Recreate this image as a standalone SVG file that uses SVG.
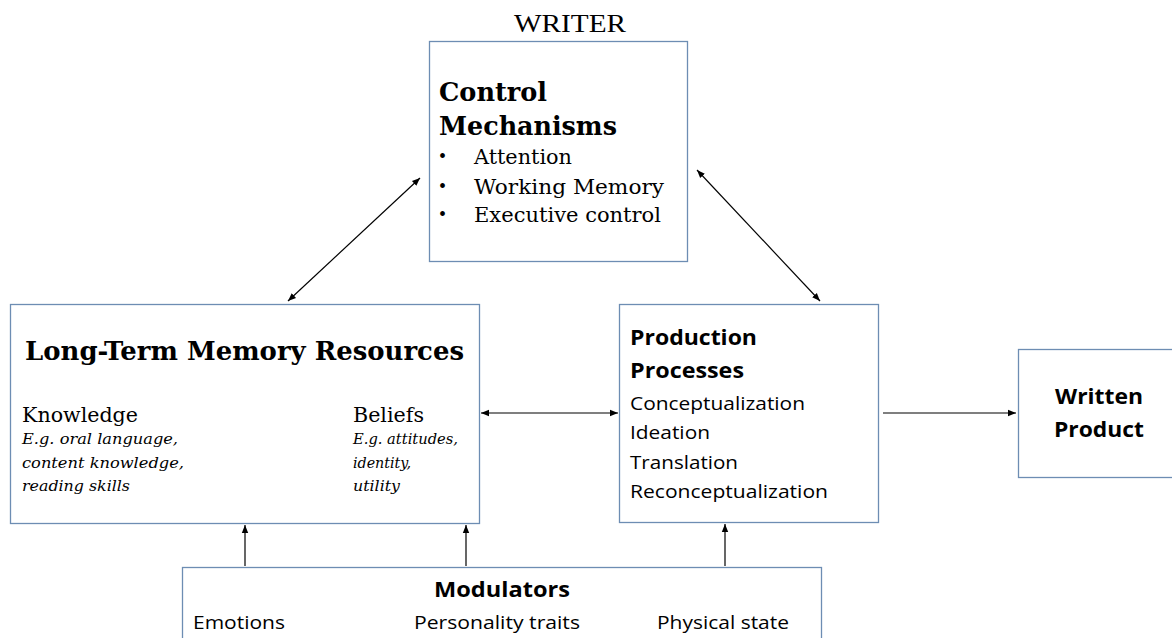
<svg xmlns="http://www.w3.org/2000/svg" width="1172" height="638" viewBox="0 0 1172 638">
<style>
.box{fill:#fff;stroke:#6d8db3;stroke-width:1.3}
.ser{font-family:"DejaVu Serif","Liberation Serif",serif;fill:#000}
.tms{font-family:"Liberation Serif",serif;fill:#000}
.san{font-family:"Open Sans","Liberation Sans",sans-serif;fill:#000}
.b{font-weight:bold}
.i{font-style:italic}
.ln{stroke:#000;stroke-width:1.2;fill:none}
</style>
<defs>
<marker id="ah" viewBox="0 0 10 10" refX="10" refY="5" markerWidth="8" markerHeight="8" markerUnits="userSpaceOnUse" orient="auto-start-reverse">
<path d="M0,1 L10,5 L0,9 Z" fill="#000"/>
</marker>
</defs>
<rect width="1172" height="638" fill="#fff"/>
<text class="tms" x="514" y="32" font-size="26" textLength="112" lengthAdjust="spacingAndGlyphs">WRITER</text>
<g id="control">
<rect class="box" x="429.5" y="41.5" width="258" height="220"/>
<text class="ser b" x="439" y="101" font-size="26" textLength="108" lengthAdjust="spacingAndGlyphs">Control</text>
<text class="ser b" x="439" y="135" font-size="26" textLength="178" lengthAdjust="spacingAndGlyphs">Mechanisms</text>
<text class="tms" x="439" y="163" font-size="20">•</text>
<text class="tms" x="439" y="193" font-size="20">•</text>
<text class="tms" x="439" y="221" font-size="20">•</text>
<text class="ser" x="474" y="164" font-size="20" textLength="98" lengthAdjust="spacingAndGlyphs">Attention</text>
<text class="ser" x="474" y="194" font-size="20" textLength="190" lengthAdjust="spacingAndGlyphs">Working Memory</text>
<text class="ser" x="474" y="222" font-size="20" textLength="187" lengthAdjust="spacingAndGlyphs">Executive control</text>
</g>
<g id="ltm">
<rect class="box" x="10.5" y="304.5" width="469" height="219"/>
<text class="ser b" x="25" y="360" font-size="26" textLength="439" lengthAdjust="spacingAndGlyphs">Long-Term Memory Resources</text>
<text class="ser" x="22" y="422" font-size="21" textLength="116" lengthAdjust="spacingAndGlyphs">Knowledge</text>
<text class="ser i" x="22" y="444" font-size="15.5" textLength="156" lengthAdjust="spacingAndGlyphs">E.g. oral language,</text>
<text class="ser i" x="22" y="468" font-size="15.5" textLength="162" lengthAdjust="spacingAndGlyphs">content knowledge,</text>
<text class="ser i" x="22" y="491" font-size="15.5" textLength="108" lengthAdjust="spacingAndGlyphs">reading skills</text>
<text class="ser" x="353" y="422" font-size="21" textLength="71" lengthAdjust="spacingAndGlyphs">Beliefs</text>
<text class="ser i" x="353" y="444" font-size="15.5" textLength="105" lengthAdjust="spacingAndGlyphs">E.g. attitudes,</text>
<text class="ser i" x="353" y="468" font-size="15.5" textLength="58" lengthAdjust="spacingAndGlyphs">identity,</text>
<text class="ser i" x="353" y="491" font-size="15.5" textLength="47" lengthAdjust="spacingAndGlyphs">utility</text>
</g>
<g id="production">
<rect class="box" x="619.5" y="304.5" width="259" height="218"/>
<text class="san b" x="630" y="345" font-size="21" textLength="127" lengthAdjust="spacingAndGlyphs">Production</text>
<text class="san b" x="630" y="378" font-size="21" textLength="114" lengthAdjust="spacingAndGlyphs">Processes</text>
<text class="san" x="630" y="410" font-size="19" textLength="175" lengthAdjust="spacingAndGlyphs">Conceptualization</text>
<text class="san" x="630" y="439" font-size="19" textLength="80" lengthAdjust="spacingAndGlyphs">Ideation</text>
<text class="san" x="630" y="469" font-size="19" textLength="108" lengthAdjust="spacingAndGlyphs">Translation</text>
<text class="san" x="630" y="498" font-size="19" textLength="198" lengthAdjust="spacingAndGlyphs">Reconceptualization</text>
</g>
<g id="written">
<rect class="box" x="1018.5" y="349.5" width="160" height="128"/>
<text class="san b" x="1099" y="404" font-size="21" text-anchor="middle" textLength="88" lengthAdjust="spacingAndGlyphs">Written</text>
<text class="san b" x="1099" y="437" font-size="21" text-anchor="middle" textLength="90" lengthAdjust="spacingAndGlyphs">Product</text>
</g>
<g id="modulators">
<rect class="box" x="182.5" y="567.5" width="639" height="80"/>
<text class="san b" x="502" y="597" font-size="21" text-anchor="middle" textLength="136" lengthAdjust="spacingAndGlyphs">Modulators</text>
<text class="san" x="193" y="629" font-size="19" textLength="92" lengthAdjust="spacingAndGlyphs">Emotions</text>
<text class="san" x="414" y="629" font-size="19" textLength="166" lengthAdjust="spacingAndGlyphs">Personality traits</text>
<text class="san" x="657" y="629" font-size="19" textLength="132" lengthAdjust="spacingAndGlyphs">Physical state</text>
</g>
<g id="connectors">
<line class="ln" x1="420" y1="178" x2="288" y2="301" marker-start="url(#ah)" marker-end="url(#ah)"/>
<line class="ln" x1="697" y1="170" x2="820" y2="301" marker-start="url(#ah)" marker-end="url(#ah)"/>
<line class="ln" x1="481" y1="413" x2="618" y2="413" marker-start="url(#ah)" marker-end="url(#ah)"/>
<line class="ln" x1="883" y1="413" x2="1016" y2="413" marker-end="url(#ah)"/>
<line class="ln" x1="245" y1="566" x2="245" y2="525" marker-end="url(#ah)"/>
<line class="ln" x1="466" y1="566" x2="466" y2="525" marker-end="url(#ah)"/>
<line class="ln" x1="725" y1="566" x2="725" y2="524" marker-end="url(#ah)"/>
</g>
</svg>
